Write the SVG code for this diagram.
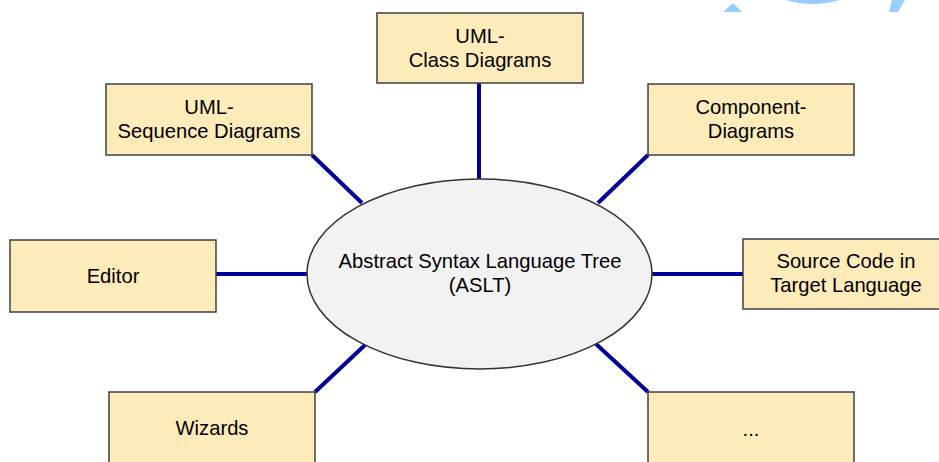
<svg xmlns="http://www.w3.org/2000/svg" width="939" height="462" viewBox="0 0 939 462">
<style>
.box{fill:#FEEBBA;stroke:#3f3f3f;stroke-width:1.5}
.t{font-family:"Liberation Sans",Arial,sans-serif;font-size:20.2px;fill:#000;text-anchor:middle}
.c{stroke:#000099;stroke-width:4;fill:none}
.deco{fill:#99CCFF}
</style>
<g id="decoration">
<polygon class="deco" points="723,12 733,3 742,12"/>
<path class="deco" d="M786,0 Q812,8 840,0 Z"/>
<polygon class="deco" points="892,0 905,0 898,12 889,12"/>
</g>
<g id="connectors">
<line class="c" x1="479" y1="83" x2="479" y2="179"/>
<line class="c" x1="312" y1="155" x2="362" y2="203"/>
<line class="c" x1="648" y1="155" x2="598" y2="203"/>
<line class="c" x1="216" y1="274" x2="307" y2="274"/>
<line class="c" x1="652" y1="274" x2="743" y2="274"/>
<line class="c" x1="315" y1="392" x2="365" y2="345"/>
<line class="c" x1="648" y1="392" x2="596" y2="344"/>
</g>
<g id="aslt">
<ellipse cx="479.5" cy="274" rx="172.5" ry="95" fill="#F2F2F2" stroke="#333" stroke-width="1.5"/>
<text class="t" x="480" y="268">Abstract Syntax Language Tree</text>
<text class="t" x="480" y="292">(ASLT)</text>
</g>
<g id="uml-class">
<rect class="box" x="377" y="13" width="206" height="70"/>
<text class="t" x="480" y="43">UML-</text>
<text class="t" x="480" y="67">Class Diagrams</text>
</g>
<g id="uml-sequence">
<rect class="box" x="106" y="84" width="206" height="71"/>
<text class="t" x="209" y="114">UML-</text>
<text class="t" x="209" y="138">Sequence Diagrams</text>
</g>
<g id="component">
<rect class="box" x="648" y="84" width="206" height="71"/>
<text class="t" x="751" y="114">Component-</text>
<text class="t" x="751" y="138">Diagrams</text>
</g>
<g id="editor">
<rect class="box" x="10" y="240" width="206" height="72"/>
<text class="t" x="113" y="283">Editor</text>
</g>
<g id="source-code">
<rect class="box" x="743" y="239" width="206" height="70"/>
<text class="t" x="846" y="268">Source Code in</text>
<text class="t" x="846" y="292">Target Language</text>
</g>
<g id="wizards">
<rect class="box" x="109" y="392" width="206" height="72"/>
<text class="t" x="212" y="435">Wizards</text>
</g>
<g id="more">
<rect class="box" x="648" y="392" width="206" height="72"/>
<text class="t" x="751" y="436">...</text>
</g>
</svg>
